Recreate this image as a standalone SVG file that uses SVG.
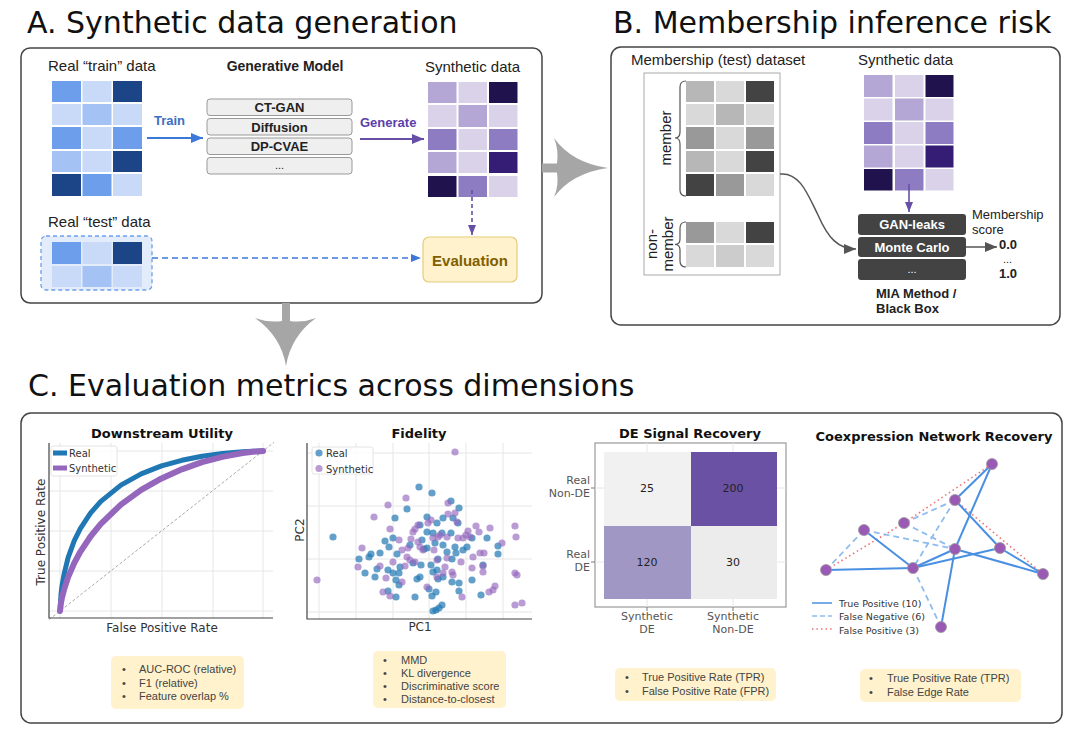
<svg xmlns="http://www.w3.org/2000/svg" width="1080" height="743" viewBox="0 0 1080 743">
<style>
.title{font-family:"DejaVu Sans",Verdana,sans-serif;font-size:30px;fill:#111}
.lbl{font-family:"Liberation Sans",Arial,sans-serif;font-size:15px;fill:#222}
.b13{font-family:"Liberation Sans",Arial,sans-serif;font-size:13px;font-weight:bold;fill:#222}
.r13{font-family:"Liberation Sans",Arial,sans-serif;font-size:13px;fill:#222}
.panel{fill:#fff;stroke:#444;stroke-width:1.5}
.mbox{fill:#efefef;stroke:#999;stroke-width:1}
.mia{fill:#434343}
.sub{font-family:"DejaVu Sans",Verdana,sans-serif;font-size:13px;font-weight:bold;fill:#111;text-anchor:middle}
.ax{font-family:"DejaVu Sans",Verdana,sans-serif;font-size:12px;fill:#333}
.leg{font-family:"DejaVu Sans",Verdana,sans-serif;font-size:10px;fill:#333}
.bul{font-family:"Liberation Sans",Arial,sans-serif;font-size:11px;fill:#444}
.bbox{fill:#fff2cc}
.grid{stroke:#e6e6e6;stroke-width:1;fill:none}
.spine{stroke:#444;stroke-width:1.2;fill:none}
.gray-arrow{fill:#a6a6a6}
.D{fill:#1c4587}.M{fill:#6d9eeb}.LM{fill:#a4c2f4}.L{fill:#c9daf8}
.P3{fill:#20124d}.P2{fill:#351c75}.P1{fill:#8e7cc3}.PL2{fill:#b4a7d6}.PL3{fill:#d9d2e9}
.G4{fill:#434343}.G9{fill:#999999}.GB{fill:#b7b7b7}.GD{fill:#d9d9d9}.GC{fill:#cccccc}
.tp{stroke:#4a90e2;stroke-width:2;fill:none}
.fn{stroke:#8fbcee;stroke-width:1.8;stroke-dasharray:6,4;fill:none}
.fp{stroke:#f07070;stroke-width:1.6;stroke-dasharray:1.5,3;fill:none}
.node{fill:#9b59b6;stroke:#999;stroke-width:0.8}
.dl{font-family:"DejaVu Sans",Verdana,sans-serif;font-size:11px;fill:#555}
</style>
<defs>
<marker id="ahBlue" viewBox="0 0 12 10" refX="12" refY="5" markerWidth="12" markerHeight="10" markerUnits="userSpaceOnUse" orient="auto"><path d="M0,0 L12,5 L0,10 z" fill="#3c78d8"/></marker>
<marker id="ahPurple" viewBox="0 0 12 10" refX="12" refY="5" markerWidth="12" markerHeight="10" markerUnits="userSpaceOnUse" orient="auto"><path d="M0,0 L12,5 L0,10 z" fill="#674ea7"/></marker>
<marker id="ahBlueS" viewBox="0 0 10 8" refX="10" refY="4" markerWidth="10" markerHeight="8" markerUnits="userSpaceOnUse" orient="auto"><path d="M0,0 L10,4 L0,8 z" fill="#3c78d8"/></marker>
<marker id="ahPurpleS" viewBox="0 0 10 8" refX="10" refY="4" markerWidth="10" markerHeight="8" markerUnits="userSpaceOnUse" orient="auto"><path d="M0,0 L10,4 L0,8 z" fill="#674ea7"/></marker>
<marker id="ahGray" viewBox="0 0 12 10" refX="12" refY="5" markerWidth="12" markerHeight="10" markerUnits="userSpaceOnUse" orient="auto"><path d="M0,0 L12,5 L0,10 z" fill="#555"/></marker>
</defs>
<rect width="1080" height="743" fill="#fff"/>

<!-- Titles -->
<text class="title" x="27" y="33">A. Synthetic data generation</text>
<text class="title" x="613" y="33">B. Membership inference risk</text>
<text class="title" x="28" y="396">C. Evaluation metrics across dimensions</text>

<!-- Panel A -->
<g id="panelA">
<rect class="panel" x="21" y="48" width="521" height="255" rx="9"/>
</g>
<g id="trainData">
<text class="lbl" x="48" y="71">Real “train” data</text>
<rect class="M" x="52" y="81" width="29" height="21"/><rect class="L" x="82.5" y="81" width="29" height="21"/><rect class="D" x="113" y="81" width="29" height="21"/>
<rect class="L" x="52" y="104" width="29" height="21"/><rect class="LM" x="82.5" y="104" width="29" height="21"/><rect class="L" x="113" y="104" width="29" height="21"/>
<rect class="M" x="52" y="127" width="29" height="22"/><rect class="L" x="82.5" y="127" width="29" height="22"/><rect class="M" x="113" y="127" width="29" height="22"/>
<rect class="LM" x="52" y="151" width="29" height="21"/><rect class="L" x="82.5" y="151" width="29" height="21"/><rect class="D" x="113" y="151" width="29" height="21"/>
<rect class="D" x="52" y="174" width="29" height="22"/><rect class="M" x="82.5" y="174" width="29" height="22"/><rect class="L" x="113" y="174" width="29" height="22"/>
</g>
<g id="testData">
<text class="lbl" x="48" y="227">Real “test” data</text>
<rect x="41" y="236" width="111" height="54" rx="5" fill="#e3ecfa" stroke="#6d9eeb" stroke-width="1.3" stroke-dasharray="4,3"/>
<rect class="M" x="52" y="242" width="29" height="22"/><rect class="L" x="82.5" y="242" width="29" height="22"/><rect class="D" x="113" y="242" width="29" height="22"/>
<rect class="L" x="52" y="266" width="29" height="21"/><rect class="LM" x="82.5" y="266" width="29" height="21"/><rect class="L" x="113" y="266" width="29" height="21"/>
</g>
<g id="genModel">
<text class="b13" x="285" y="71" text-anchor="middle" style="font-size:14px">Generative Model</text>
<rect class="mbox" x="207" y="99" width="145" height="16.5" rx="3"/>
<rect class="mbox" x="207" y="118.5" width="145" height="16.5" rx="3"/>
<rect class="mbox" x="207" y="138" width="145" height="16.5" rx="3"/>
<rect class="mbox" x="207" y="157.5" width="145" height="16.5" rx="3"/>
<text class="b13" x="279.5" y="112" text-anchor="middle">CT-GAN</text>
<text class="b13" x="279.5" y="131.5" text-anchor="middle">Diffusion</text>
<text class="b13" x="279.5" y="151" text-anchor="middle">DP-CVAE</text>
<text class="r13" x="279.5" y="169" text-anchor="middle" style="font-size:11px">...</text>
</g>
<g id="synthA">
<text class="lbl" x="425" y="72">Synthetic data</text>
<rect class="PL2" x="428" y="82" width="28.5" height="21"/><rect class="PL3" x="458.5" y="82" width="28.5" height="21"/><rect class="P3" x="489" y="82" width="28.5" height="21"/>
<rect class="PL3" x="428" y="105" width="28.5" height="22"/><rect class="PL2" x="458.5" y="105" width="28.5" height="22"/><rect class="PL3" x="489" y="105" width="28.5" height="22"/>
<rect class="P1" x="428" y="129" width="28.5" height="21"/><rect class="PL3" x="458.5" y="129" width="28.5" height="21"/><rect class="P1" x="489" y="129" width="28.5" height="21"/>
<rect class="PL2" x="428" y="152" width="28.5" height="21"/><rect class="PL3" x="458.5" y="152" width="28.5" height="21"/><rect class="P2" x="489" y="152" width="28.5" height="21"/>
<rect class="P3" x="428" y="176" width="28.5" height="21"/><rect class="P1" x="458.5" y="176" width="28.5" height="21"/><rect class="PL3" x="489" y="176" width="28.5" height="21"/>
</g>
<g id="evaluation">
<rect x="423" y="237" width="94" height="45" rx="6" fill="#fff2cc" stroke="#e6cc78" stroke-width="1.2"/>
<text x="470" y="266" text-anchor="middle" style="font-family:'Liberation Sans',Arial,sans-serif;font-size:15px;font-weight:bold;fill:#7f6000">Evaluation</text>
</g>

<!-- Panel B -->
<g id="panelB">
<rect class="panel" x="611" y="47" width="449" height="278" rx="10"/>
</g>
<g id="memberData">
<text class="lbl" x="631" y="65">Membership (test) dataset</text>
<rect x="644" y="73" width="136" height="202" fill="#fff" stroke="#aaa" stroke-width="1"/>
<rect class="GB" x="686" y="81" width="28" height="21"/><rect class="GD" x="716" y="81" width="28" height="21"/><rect class="G4" x="746" y="81" width="28" height="21"/>
<rect class="GD" x="686" y="104" width="28" height="21"/><rect class="GB" x="716" y="104" width="28" height="21"/><rect class="GD" x="746" y="104" width="28" height="21"/>
<rect class="G9" x="686" y="127" width="28" height="22"/><rect class="GD" x="716" y="127" width="28" height="22"/><rect class="G9" x="746" y="127" width="28" height="22"/>
<rect class="GB" x="686" y="151" width="28" height="21"/><rect class="GD" x="716" y="151" width="28" height="21"/><rect class="G4" x="746" y="151" width="28" height="21"/>
<rect class="G4" x="686" y="174" width="28" height="22"/><rect class="G9" x="716" y="174" width="28" height="22"/><rect class="GD" x="746" y="174" width="28" height="22"/>
<rect class="G9" x="686" y="222" width="28" height="21"/><rect class="GD" x="716" y="222" width="28" height="21"/><rect class="G4" x="746" y="222" width="28" height="21"/>
<rect class="GD" x="686" y="245" width="28" height="22"/><rect class="GC" x="716" y="245" width="28" height="22"/><rect class="GD" x="746" y="245" width="28" height="22"/>
<path d="M686,81 Q680,81 680,87 L680,132 Q680,138 675,138 Q680,138 680,144 L680,190 Q680,196 686,196" fill="none" stroke="#555" stroke-width="1.2"/>
<path d="M686,222 Q680,222 680,228 L680,239 Q680,244.5 675,244.5 Q680,244.5 680,250 L680,261 Q680,267 686,267" fill="none" stroke="#555" stroke-width="1.2"/>
<text class="lbl" transform="translate(671,138) rotate(-90)" text-anchor="middle">member</text>
<text class="lbl" transform="translate(657,244) rotate(-90)" text-anchor="middle">non-</text>
<text class="lbl" transform="translate(673,244) rotate(-90)" text-anchor="middle">member</text>
</g>
<g id="synthB">
<text class="lbl" x="858" y="65">Synthetic data</text>
<rect class="PL2" x="864" y="75" width="28.5" height="22"/><rect class="PL3" x="895" y="75" width="28.5" height="22"/><rect class="P3" x="925.5" y="75" width="28" height="22"/>
<rect class="PL3" x="864" y="98.5" width="28.5" height="22"/><rect class="PL2" x="895" y="98.5" width="28.5" height="22"/><rect class="PL3" x="925.5" y="98.5" width="28" height="22"/>
<rect class="P1" x="864" y="122" width="28.5" height="22"/><rect class="PL3" x="895" y="122" width="28.5" height="22"/><rect class="P1" x="925.5" y="122" width="28" height="22"/>
<rect class="PL2" x="864" y="145.5" width="28.5" height="22"/><rect class="PL3" x="895" y="145.5" width="28.5" height="22"/><rect class="P2" x="925.5" y="145.5" width="28" height="22"/>
<rect class="P3" x="864" y="169" width="28.5" height="21.5"/><rect class="P1" x="895" y="169" width="28.5" height="21.5"/><rect class="PL3" x="925.5" y="169" width="28" height="21.5"/>
</g>
<g id="miaMethod">
<rect class="mia" x="858" y="214" width="108" height="21" rx="3"/>
<rect class="mia" x="858" y="237" width="108" height="20" rx="3"/>
<rect class="mia" x="858" y="259" width="108" height="21" rx="3"/>
<text class="b13" x="912" y="229" text-anchor="middle" style="fill:#fff">GAN-leaks</text>
<text class="b13" x="912" y="251.5" text-anchor="middle" style="fill:#fff">Monte Carlo</text>
<text class="b13" x="912" y="273" text-anchor="middle" style="fill:#fff;font-weight:normal;font-size:11px">...</text>
<text class="b13" x="876" y="298">MIA Method /</text>
<text class="b13" x="876" y="313">Black Box</text>
</g>
<g id="memberScore">
<text class="r13" x="972" y="219">Membership</text>
<text class="r13" x="972" y="234">score</text>
<text class="b13" x="999" y="249">0.0</text>
<text class="r13" x="1003" y="263" style="font-size:11px">...</text>
<text class="b13" x="999" y="278">1.0</text>
</g>

<!-- Connectors -->
<g id="connectors">
<line x1="147" y1="138" x2="203" y2="138" stroke="#3c78d8" stroke-width="2" marker-end="url(#ahBlue)"/>
<text x="154" y="125" style="font-family:'Liberation Sans',Arial,sans-serif;font-size:13px;font-weight:bold;fill:#3c6fc4">Train</text>
<line x1="360" y1="139" x2="424" y2="139" stroke="#674ea7" stroke-width="2" marker-end="url(#ahPurple)"/>
<text x="360" y="127" style="font-family:'Liberation Sans',Arial,sans-serif;font-size:13px;font-weight:bold;fill:#5b3fa8">Generate</text>
<line x1="472" y1="190" x2="472" y2="235" stroke="#674ea7" stroke-width="1.6" stroke-dasharray="4,3" marker-end="url(#ahPurpleS)"/>
<line x1="152" y1="258" x2="421" y2="258" stroke="#3c78d8" stroke-width="1.5" stroke-dasharray="6,4" marker-end="url(#ahBlueS)"/>
<path d="M780,174 C800,172 808,195 818,215 C828,238 838,249 856,249" fill="none" stroke="#555" stroke-width="1.5" marker-end="url(#ahGray)"/>
<line x1="909" y1="184" x2="909" y2="212" stroke="#674ea7" stroke-width="1.6" marker-end="url(#ahPurpleS)"/>
<line x1="966" y1="247" x2="997" y2="247" stroke="#555" stroke-width="1.5" marker-end="url(#ahGray)"/>
<path class="gray-arrow" d="M542,163.5 L557,163.5 Q559,150 554,138 Q572,163 608,168 Q572,173 554,197 Q559,186 557,172.5 L542,172.5 Z"/>
<path class="gray-arrow" d="M282,303 L290,303 L290,321 Q303,323 316,318 Q291,336 286,366 Q281,336 255,318 Q269,323 282,321 Z"/>
</g>

<!-- Panel C -->
<g id="panelC">
<rect class="panel" x="21" y="413" width="1041" height="310" rx="10"/>
</g>

<g id="downstream">
<text class="sub" x="162" y="438">Downstream Utility</text>
<g class="grid">
<line x1="60" y1="443" x2="60" y2="618"/><line x1="111" y1="443" x2="111" y2="618"/><line x1="162" y1="443" x2="162" y2="618"/><line x1="213" y1="443" x2="213" y2="618"/><line x1="263" y1="443" x2="263" y2="618"/>
<line x1="49" y1="451" x2="273" y2="451"/><line x1="49" y1="491" x2="273" y2="491"/><line x1="49" y1="531" x2="273" y2="531"/><line x1="49" y1="571" x2="273" y2="571"/><line x1="49" y1="611" x2="273" y2="611"/>
</g>
<line x1="49" y1="619.7" x2="274" y2="442.3" stroke="#aaa" stroke-width="1" stroke-dasharray="3,2"/>
<polyline points="60,611 61,594.3 62,585.9 64.1,574 68.1,557.7 74.2,540.9 80.3,528.6 90.5,513.1 100.6,501.6 120.9,485.1 141.2,473.9 161.5,465.9 181.8,460.3 202.1,456.2 222.4,453.4 242.7,451.7 252.9,451.2 263,451" fill="none" stroke="#1f77b4" stroke-width="5" stroke-linejoin="round" stroke-linecap="round"/>
<polyline points="60,611 61,602.7 62,597.5 64.1,589.4 68.1,577.1 74.2,563.1 80.3,551.8 90.5,536.5 100.6,524.1 120.9,504.6 141.2,489.9 161.5,478.4 181.8,469.3 202.1,462.2 222.4,456.9 242.7,453 252.9,451.8 263,451" fill="none" stroke="#9467bd" stroke-width="6" stroke-linejoin="round" stroke-linecap="round"/>
<path class="spine" d="M49,443 L49,618 L273,618"/>
<rect x="51" y="446" width="66" height="30" fill="#fff" fill-opacity="0.8" stroke="#ddd" stroke-width="0.8" rx="2"/>
<line x1="53" y1="453" x2="67" y2="453" stroke="#1f77b4" stroke-width="5"/>
<line x1="53" y1="468" x2="67" y2="468" stroke="#9467bd" stroke-width="5"/>
<text class="leg" x="69" y="457">Real</text>
<text class="leg" x="69" y="472">Synthetic</text>
<text class="ax" transform="translate(45,532) rotate(-90)" text-anchor="middle">True Positive Rate</text>
<text class="ax" x="162" y="632" text-anchor="middle">False Positive Rate</text>
<rect class="bbox" x="111" y="656" width="133" height="53" rx="5"/>
<text class="bul" x="122" y="673">•</text><text class="bul" x="139" y="673">AUC-ROC (relative)</text>
<text class="bul" x="122" y="687">•</text><text class="bul" x="139" y="687">F1 (relative)</text>
<text class="bul" x="122" y="700">•</text><text class="bul" x="139" y="700">Feature overlap %</text>
</g>

<g id="fidelity">
<text class="sub" x="419" y="438">Fidelity</text>
<g class="grid">
<line x1="319" y1="443" x2="319" y2="619"/><line x1="356" y1="443" x2="356" y2="619"/><line x1="393" y1="443" x2="393" y2="619"/><line x1="429" y1="443" x2="429" y2="619"/><line x1="466" y1="443" x2="466" y2="619"/><line x1="503" y1="443" x2="503" y2="619"/>
<line x1="307" y1="453" x2="532" y2="453"/><line x1="307" y1="506" x2="532" y2="506"/><line x1="307" y1="559" x2="532" y2="559"/><line x1="307" y1="612" x2="532" y2="612"/>
</g>
<g fill="#1f77b4" fill-opacity="0.7">
<circle cx="333" cy="537" r="3.6"/><circle cx="419" cy="487" r="3.6"/><circle cx="432" cy="493" r="3.6"/><circle cx="451" cy="501" r="3.6"/><circle cx="459" cy="508" r="3.6"/><circle cx="407" cy="509" r="3.6"/><circle cx="395" cy="518" r="3.6"/><circle cx="427" cy="517" r="3.6"/><circle cx="437" cy="523" r="3.6"/><circle cx="443" cy="518" r="3.6"/><circle cx="453" cy="518" r="3.6"/><circle cx="458" cy="523" r="3.6"/><circle cx="420" cy="525" r="3.6"/><circle cx="427" cy="532" r="3.6"/><circle cx="433" cy="533" r="3.6"/><circle cx="442" cy="533" r="3.6"/><circle cx="451" cy="533" r="3.6"/><circle cx="393" cy="538" r="3.6"/><circle cx="385" cy="541" r="3.6"/><circle cx="380" cy="553" r="3.6"/><circle cx="371" cy="554" r="3.6"/><circle cx="369" cy="557" r="3.6"/><circle cx="359" cy="559" r="3.6"/><circle cx="389" cy="547" r="3.6"/><circle cx="397" cy="554" r="3.6"/><circle cx="410" cy="545" r="3.6"/><circle cx="422" cy="540" r="3.6"/><circle cx="424" cy="549" r="3.6"/><circle cx="427" cy="548" r="3.6"/><circle cx="435" cy="543" r="3.6"/><circle cx="443" cy="545" r="3.6"/><circle cx="455" cy="547" r="3.6"/><circle cx="463" cy="550" r="3.6"/><circle cx="467" cy="547" r="3.6"/><circle cx="472" cy="538" r="3.6"/><circle cx="487" cy="538" r="3.6"/><circle cx="498" cy="546" r="3.6"/><circle cx="498" cy="554" r="3.6"/><circle cx="456" cy="553" r="3.6"/><circle cx="452" cy="559" r="3.6"/><circle cx="447" cy="552" r="3.6"/><circle cx="438" cy="559" r="3.6"/><circle cx="431" cy="565" r="3.6"/><circle cx="421" cy="565" r="3.6"/><circle cx="413" cy="563" r="3.6"/><circle cx="400" cy="567" r="3.6"/><circle cx="377" cy="569" r="3.6"/><circle cx="365" cy="573" r="3.6"/><circle cx="375" cy="577" r="3.6"/><circle cx="388" cy="570" r="3.6"/><circle cx="393" cy="573" r="3.6"/><circle cx="399" cy="573" r="3.6"/><circle cx="396" cy="580" r="3.6"/><circle cx="399" cy="585" r="3.6"/><circle cx="417" cy="579" r="3.6"/><circle cx="420" cy="577" r="3.6"/><circle cx="433" cy="572" r="3.6"/><circle cx="437" cy="570" r="3.6"/><circle cx="438" cy="579" r="3.6"/><circle cx="443" cy="577" r="3.6"/><circle cx="452" cy="582" r="3.6"/><circle cx="459" cy="583" r="3.6"/><circle cx="472" cy="580" r="3.6"/><circle cx="483" cy="565" r="3.6"/><circle cx="429" cy="589" r="3.6"/><circle cx="432" cy="596" r="3.6"/><circle cx="436" cy="592" r="3.6"/><circle cx="388" cy="591" r="3.6"/><circle cx="396" cy="597" r="3.6"/><circle cx="415" cy="597" r="3.6"/><circle cx="459" cy="591" r="3.6"/><circle cx="481" cy="595" r="3.6"/><circle cx="433" cy="611" r="3.6"/><circle cx="436" cy="610" r="3.6"/><circle cx="439" cy="608" r="3.6"/><circle cx="442" cy="605" r="3.6"/>
</g>
<g fill="#9467bd" fill-opacity="0.65">
<circle cx="455" cy="452" r="3.6"/><circle cx="317" cy="580" r="3.6"/><circle cx="388" cy="505" r="3.6"/><circle cx="406" cy="498" r="3.6"/><circle cx="374" cy="517" r="3.6"/><circle cx="390" cy="529" r="3.6"/><circle cx="362" cy="548" r="3.6"/><circle cx="358" cy="567" r="3.6"/><circle cx="380" cy="566" r="3.6"/><circle cx="386" cy="578" r="3.6"/><circle cx="383" cy="592" r="3.6"/><circle cx="393" cy="562" r="3.6"/><circle cx="399" cy="540" r="3.6"/><circle cx="402" cy="550" r="3.6"/><circle cx="408" cy="548" r="3.6"/><circle cx="407" cy="557" r="3.6"/><circle cx="410" cy="560" r="3.6"/><circle cx="405" cy="566" r="3.6"/><circle cx="413" cy="532" r="3.6"/><circle cx="415" cy="529" r="3.6"/><circle cx="418" cy="525" r="3.6"/><circle cx="420" cy="547" r="3.6"/><circle cx="423" cy="550" r="3.6"/><circle cx="428" cy="523" r="3.6"/><circle cx="431" cy="520" r="3.6"/><circle cx="433" cy="538" r="3.6"/><circle cx="434" cy="550" r="3.6"/><circle cx="437" cy="560" r="3.6"/><circle cx="438" cy="537" r="3.6"/><circle cx="440" cy="535" r="3.6"/><circle cx="443" cy="573" r="3.6"/><circle cx="445" cy="567" r="3.6"/><circle cx="447" cy="558" r="3.6"/><circle cx="448" cy="503" r="3.6"/><circle cx="448" cy="514" r="3.6"/><circle cx="452" cy="572" r="3.6"/><circle cx="453" cy="575" r="3.6"/><circle cx="455" cy="513" r="3.6"/><circle cx="457" cy="522" r="3.6"/><circle cx="458" cy="538" r="3.6"/><circle cx="461" cy="562" r="3.6"/><circle cx="463" cy="538" r="3.6"/><circle cx="466" cy="535" r="3.6"/><circle cx="468" cy="531" r="3.6"/><circle cx="470" cy="537" r="3.6"/><circle cx="473" cy="557" r="3.6"/><circle cx="476" cy="526" r="3.6"/><circle cx="479" cy="532" r="3.6"/><circle cx="480" cy="553" r="3.6"/><circle cx="484" cy="553" r="3.6"/><circle cx="483" cy="566" r="3.6"/><circle cx="483" cy="572" r="3.6"/><circle cx="490" cy="528" r="3.6"/><circle cx="495" cy="586" r="3.6"/><circle cx="489" cy="592" r="3.6"/><circle cx="472" cy="568" r="3.6"/><circle cx="502" cy="543" r="3.6"/><circle cx="515" cy="526" r="3.6"/><circle cx="516" cy="537" r="3.6"/><circle cx="515" cy="573" r="3.6"/><circle cx="517" cy="575" r="3.6"/><circle cx="515" cy="605" r="3.6"/><circle cx="522" cy="603" r="3.6"/><circle cx="493" cy="590" r="3.6"/><circle cx="462" cy="597" r="3.6"/><circle cx="427" cy="587" r="3.6"/><circle cx="415" cy="562" r="3.6"/><circle cx="402" cy="582" r="3.6"/><circle cx="390" cy="596" r="3.6"/><circle cx="411" cy="539" r="3.6"/><circle cx="418" cy="542" r="3.6"/><circle cx="447" cy="537" r="3.6"/><circle cx="437" cy="577" r="3.6"/>
</g>
<path class="spine" d="M307,443 L307,619 L532,619"/>
<rect x="312" y="447" width="61" height="27" fill="#fff" fill-opacity="0.8" stroke="#ddd" stroke-width="0.8" rx="2"/>
<circle cx="319" cy="453" r="3.6" fill="#1f77b4" fill-opacity="0.7"/>
<circle cx="319" cy="468.5" r="3.6" fill="#9467bd" fill-opacity="0.65"/>
<text class="leg" x="326" y="457">Real</text>
<text class="leg" x="326" y="472.5">Synthetic</text>
<text class="ax" transform="translate(304,530) rotate(-90)" text-anchor="middle">PC2</text>
<text class="ax" x="420" y="631" text-anchor="middle">PC1</text>
<rect class="bbox" x="373" y="651" width="133" height="57" rx="5"/>
<text class="bul" x="383" y="664">•</text><text class="bul" x="401" y="664">MMD</text>
<text class="bul" x="383" y="677">•</text><text class="bul" x="401" y="677">KL divergence</text>
<text class="bul" x="383" y="690">•</text><text class="bul" x="401" y="690">Discriminative score</text>
<text class="bul" x="383" y="703">•</text><text class="bul" x="401" y="703">Distance-to-closest</text>
</g>

<g id="deSignal">
<text class="sub" x="690" y="438">DE Signal Recovery</text>
<rect x="595" y="443" width="191" height="164" fill="#fff" stroke="#999" stroke-width="1.2"/>
<g class="grid"><line x1="647" y1="443" x2="647" y2="607"/><line x1="733" y1="443" x2="733" y2="607"/><line x1="595" y1="488" x2="786" y2="488"/><line x1="595" y1="562" x2="786" y2="562"/></g>
<rect x="604" y="452" width="87" height="74" fill="#f1f1f1"/>
<rect x="691" y="452" width="86" height="74" fill="#6a51a3"/>
<rect x="604" y="526" width="87" height="73" fill="#a197c5"/>
<rect x="691" y="526" width="86" height="73" fill="#ececec"/>
<g stroke="#777" stroke-width="1"><line x1="591" y1="488" x2="595" y2="488"/><line x1="591" y1="562" x2="595" y2="562"/><line x1="647" y1="607" x2="647" y2="611"/><line x1="733" y1="607" x2="733" y2="611"/></g>
<g style="font-family:'DejaVu Sans',Verdana,sans-serif;font-size:11px;fill:#222" text-anchor="middle">
<text x="647" y="492">25</text><text x="733" y="492">200</text><text x="647" y="566">120</text><text x="733" y="566">30</text>
</g>
<text class="dl" x="590" y="484" text-anchor="end">Real</text><text class="dl" x="590" y="497" text-anchor="end">Non-DE</text>
<text class="dl" x="590" y="558" text-anchor="end">Real</text><text class="dl" x="590" y="571" text-anchor="end">DE</text>
<text class="dl" x="647" y="620" text-anchor="middle">Synthetic</text><text class="dl" x="647" y="633" text-anchor="middle">DE</text>
<text class="dl" x="733" y="620" text-anchor="middle">Synthetic</text><text class="dl" x="733" y="633" text-anchor="middle">Non-DE</text>
<rect class="bbox" x="615" y="668" width="161" height="33" rx="5"/>
<text class="bul" x="625" y="681">•</text><text class="bul" x="642" y="681">True Positive Rate (TPR)</text>
<text class="bul" x="625" y="695">•</text><text class="bul" x="642" y="695">False Positive Rate (FPR)</text>
</g>

<g id="coexpression">
<text class="sub" x="934" y="441">Coexpression Network Recovery</text>
<g id="networkEdges">
<line class="fp" x1="826" y1="570" x2="904" y2="523"/>
<line class="fp" x1="904" y1="523" x2="992" y2="464"/>
<line class="fp" x1="955" y1="500" x2="1043" y2="574"/>
<line class="fn" x1="864" y1="530" x2="826" y2="570"/>
<line class="fn" x1="864" y1="530" x2="955" y2="549"/>
<line class="fn" x1="904" y1="523" x2="955" y2="549"/>
<line class="fn" x1="904" y1="523" x2="955" y2="500"/>
<line class="fn" x1="955" y1="500" x2="913" y2="568"/>
<line class="fn" x1="913" y1="568" x2="941" y2="627"/>
<line class="tp" x1="992" y1="464" x2="955" y2="500"/>
<line class="tp" x1="992" y1="464" x2="955" y2="549"/>
<line class="tp" x1="955" y1="500" x2="1000" y2="548"/>
<line class="tp" x1="864" y1="530" x2="913" y2="568"/>
<line class="tp" x1="826" y1="570" x2="913" y2="568"/>
<line class="tp" x1="913" y1="568" x2="955" y2="549"/>
<line class="tp" x1="913" y1="568" x2="1000" y2="548"/>
<line class="tp" x1="955" y1="549" x2="1043" y2="574"/>
<line class="tp" x1="1000" y1="548" x2="1043" y2="574"/>
<line class="tp" x1="955" y1="549" x2="941" y2="627"/>
</g>
<g id="networkNodes">
<circle class="node" cx="992" cy="464" r="5.5"/><circle class="node" cx="955" cy="500" r="5.5"/><circle class="node" cx="904" cy="523" r="5.5"/><circle class="node" cx="864" cy="530" r="5.5"/><circle class="node" cx="955" cy="549" r="5.5"/><circle class="node" cx="1000" cy="548" r="5.5"/><circle class="node" cx="913" cy="568" r="5.5"/><circle class="node" cx="826" cy="570" r="5.5"/><circle class="node" cx="1043" cy="574" r="5.5"/><circle class="node" cx="941" cy="627" r="5.5"/>
</g>
<line class="tp" x1="812" y1="603" x2="832" y2="603" style="stroke-width:1.5"/>
<line class="fn" x1="812" y1="616" x2="832" y2="616" style="stroke-width:1.5;stroke-dasharray:5,3"/>
<line class="fp" x1="812" y1="629" x2="832" y2="629" style="stroke-width:1.5"/>
<g style="font-family:'DejaVu Sans',Verdana,sans-serif;font-size:9.5px;fill:#333">
<text x="839" y="606.5">True Positive (10)</text>
<text x="839" y="620">False Negative (6)</text>
<text x="839" y="633.5">False Positive (3)</text>
</g>
<rect class="bbox" x="860" y="669" width="161" height="33" rx="5"/>
<text class="bul" x="869" y="682">•</text><text class="bul" x="887" y="682">True Positive Rate (TPR)</text>
<text class="bul" x="869" y="696">•</text><text class="bul" x="887" y="696">False Edge Rate</text>
</g>
</svg>
